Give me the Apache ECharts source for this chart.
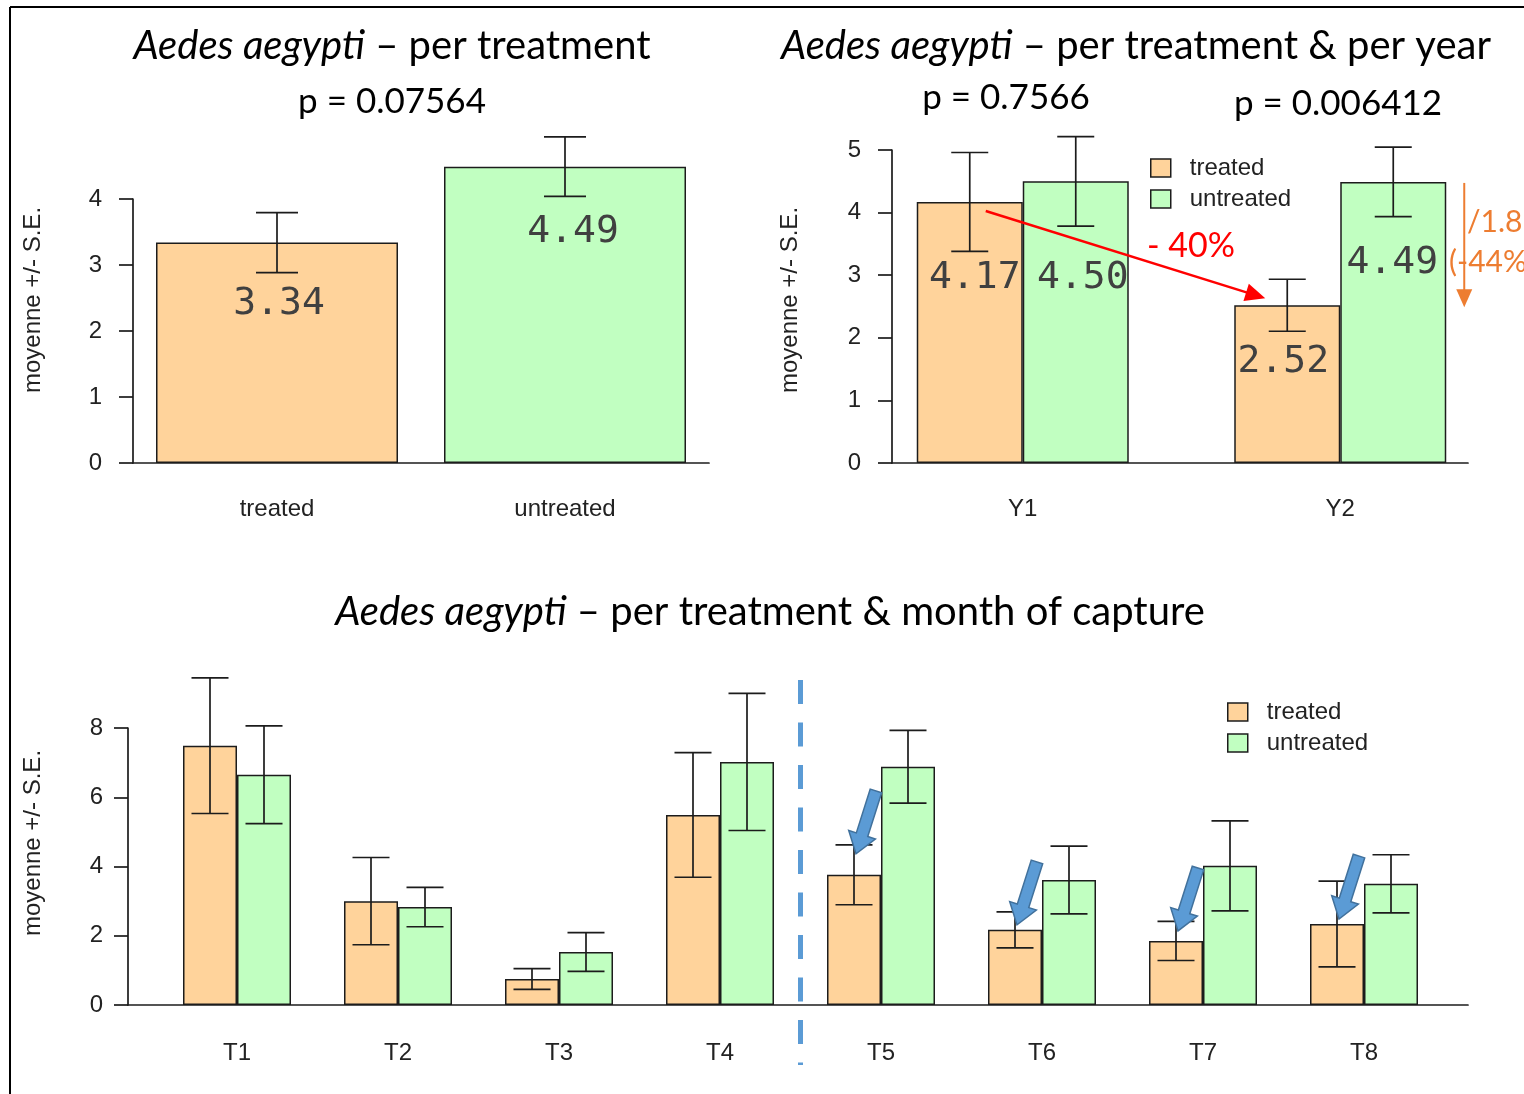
<!DOCTYPE html>
<html>
<head>
<meta charset="utf-8">
<script src="https://cdn.jsdelivr.net/npm/echarts@6/dist/echarts.min.js"></script>
<style>
  html, body { margin: 0; padding: 0; background: #ffffff; }
  #chart { width: 1524px; height: 1094px; }
</style>
</head>
<body>
<div id="chart"></div>
<script>
// ---- Aedes aegypti captures: mean +/- standard error ----

// Per treatment
const overallCats = ['treated', 'untreated'];
const overallMean = [3.34, 4.49];
const overallSe = [0.455, 0.45];

// Per treatment and year
const yearCats = ['Y1', 'Y2'];
const yearTreated = [4.17, 2.52];
const yearTreatedSe = [0.79, 0.415];
const yearUntreated = [4.50, 4.49];
const yearUntreatedSe = [0.715, 0.555];

// Per treatment and month of capture
const monthCats = ['T1', 'T2', 'T3', 'T4', 'T5', 'T6', 'T7', 'T8'];
const monthTreated = [7.49, 3.00, 0.75, 5.49, 3.76, 2.17, 1.85, 2.34];
const monthTreatedSe = [1.96, 1.26, 0.30, 1.80, 0.865, 0.52, 0.565, 1.24];
const monthUntreated = [6.65, 2.83, 1.53, 7.02, 6.88, 3.61, 4.02, 3.50];
const monthUntreatedSe = [1.41, 0.57, 0.56, 1.98, 1.05, 0.98, 1.30, 0.84];

// Axis ranges (tick step) for the three panels
const overallAxis = { max: 4, step: 1 };
const yearAxis = { max: 5, step: 1 };
const monthAxis = { max: 8, step: 2 };

const seriesNames = ['treated', 'untreated'];

// ---- styling ----
const TREATED = '#FFD39B';
const UNTREATED = '#C1FFC1';
const EDGE = '#1c1c1c';
const TITLE_FONT = "Lato, 'Open Sans', sans-serif";
const AXIS_FONT = "'Liberation Sans', Arial, sans-serif";
const NUM_FONT = "'DejaVu Sans Mono', 'Liberation Mono', monospace";
const BLUE = '#5B9BD5';
const ORANGE = '#ED7D31';

const chart = echarts.init(document.getElementById('chart'), null, { renderer: 'canvas' });

function axisLabelStyle(margin) {
  return { show: true, margin: margin, fontFamily: AXIS_FONT, fontSize: 24, color: '#222' };
}
const lineStyle = { color: EDGE, width: 1.7 };

function valueAxisVisible(gridIndex, cfg, margin) {
  return {
    gridIndex: gridIndex, type: 'value', min: 0, max: cfg.max, interval: cfg.step,
    axisLine: { show: true, lineStyle: lineStyle },
    axisTick: { show: true, length: 14, lineStyle: lineStyle },
    axisLabel: axisLabelStyle(margin),
    splitLine: { show: false }
  };
}
function valueAxisHidden(gridIndex, cfg) {
  return { gridIndex: gridIndex, type: 'value', min: 0, max: cfg.max, show: false, splitLine: { show: false } };
}
function categoryAxis(gridIndex, cats, showLine, margin) {
  return {
    gridIndex: gridIndex, type: 'category', data: cats,
    axisLine: { show: showLine, lineStyle: lineStyle },
    axisTick: { show: false },
    axisLabel: axisLabelStyle(margin),
    splitLine: { show: false }
  };
}
function frameXAxis(gridIndex) {
  return {
    gridIndex: gridIndex, type: 'value', min: 0, max: 1,
    axisLine: { show: true, onZero: false, lineStyle: lineStyle },
    axisTick: { show: false }, axisLabel: { show: false }, splitLine: { show: false }
  };
}

// error bars drawn through the axes: [category index, mean - se, mean + se]
function errorSeries(axisIndex, means, ses, shiftPx, capPx) {
  return {
    type: 'custom', xAxisIndex: axisIndex, yAxisIndex: axisIndex,
    clip: false, silent: true, z: 6,
    data: means.map((m, i) => [i, m - ses[i], m + ses[i]]),
    encode: { x: 0, y: [1, 2] },
    renderItem: function (params, api) {
      const lo = api.coord([api.value(0), api.value(1)]);
      const hi = api.coord([api.value(0), api.value(2)]);
      const x = lo[0] + shiftPx;
      const st = { stroke: EDGE, lineWidth: 1.7 };
      return {
        type: 'group', children: [
          { type: 'line', shape: { x1: x, y1: lo[1], x2: x, y2: hi[1] }, style: st },
          { type: 'line', shape: { x1: x - capPx / 2, y1: lo[1], x2: x + capPx / 2, y2: lo[1] }, style: st },
          { type: 'line', shape: { x1: x - capPx / 2, y1: hi[1], x2: x + capPx / 2, y2: hi[1] }, style: st }
        ]
      };
    }
  };
}

// value labels written inside the bars: [x shift, distance below bar top]
const overallLabelPlace = [[2, 62], [8, 65]];
const yearTreatedLabelPlace = [[5, 76], [-4, 57]];
const yearUntreatedLabelPlace = [[7, 97], [-1, 81]];

function labelled(values, places, color) {
  return values.map((v, i) => ({
    value: v,
    itemStyle: color ? { color: color[i] } : undefined,
    label: {
      show: true, position: ['50%', places[i][1]], offset: [places[i][0], 0],
      align: 'center', verticalAlign: 'middle',
      formatter: (p) => Number(p.value).toFixed(2),
      fontFamily: NUM_FONT, fontSize: 38, color: '#404040'
    }
  }));
}

const barBorder = { borderColor: EDGE, borderWidth: 1.5 };

function legendAt(left, top) {
  return {
    data: seriesNames, orient: 'vertical', left: left, top: top,
    icon: 'rect', itemWidth: 20, itemHeight: 18, itemGap: 7, selectedMode: false,
    itemStyle: { borderColor: EDGE, borderWidth: 1.5 },
    textStyle: { fontFamily: AXIS_FONT, fontSize: 24, color: '#222', padding: [0, 0, 0, 14] }
  };
}

const option = {
  backgroundColor: '#ffffff',
  animation: false,
  grid: [
    { left: 133, top: 199, width: 576, height: 264, containLabel: false, outerBoundsMode: 'none' },
    { left: 864, top: 150, width: 635, height: 313, containLabel: false, outerBoundsMode: 'none' },
    { left: 892, top: 150, width: 576, height: 313, containLabel: false, outerBoundsMode: 'none' },
    { left: 156.5, top: 728, width: 1288, height: 277, containLabel: false, outerBoundsMode: 'none' },
    { left: 128, top: 728, width: 1340, height: 277, containLabel: false, outerBoundsMode: 'none' }
  ],
  xAxis: [
    categoryAxis(0, overallCats, true, 34),
    categoryAxis(1, yearCats, false, 34),
    frameXAxis(2),
    categoryAxis(3, monthCats, false, 36),
    frameXAxis(4)
  ],
  yAxis: [
    valueAxisVisible(0, overallAxis, 31),
    valueAxisHidden(1, yearAxis),
    valueAxisVisible(2, yearAxis, 31),
    valueAxisHidden(3, monthAxis),
    valueAxisVisible(4, monthAxis, 25)
  ],
  legend: [legendAt(1145, 151), legendAt(1222, 695)],
  series: [
    // panel 1
    {
      name: 'per treatment', type: 'bar', xAxisIndex: 0, yAxisIndex: 0, clip: false,
      barWidth: 242, itemStyle: barBorder,
      data: labelled(overallMean, overallLabelPlace, [TREATED, UNTREATED])
    },
    errorSeries(0, overallMean, overallSe, 0, 42),
    // panel 2
    {
      name: 'treated', type: 'bar', xAxisIndex: 1, yAxisIndex: 1, clip: false,
      barWidth: 106, barGap: '0%', itemStyle: Object.assign({ color: TREATED }, barBorder),
      data: labelled(yearTreated, yearTreatedLabelPlace)
    },
    {
      name: 'untreated', type: 'bar', xAxisIndex: 1, yAxisIndex: 1, clip: false,
      barWidth: 106, barGap: '0%', itemStyle: Object.assign({ color: UNTREATED }, barBorder),
      data: labelled(yearUntreated, yearUntreatedLabelPlace)
    },
    errorSeries(1, yearTreated, yearTreatedSe, -53, 37),
    errorSeries(1, yearUntreated, yearUntreatedSe, 53, 37),
    // panel 3
    {
      name: 'treated', type: 'bar', xAxisIndex: 3, yAxisIndex: 3, clip: false,
      barWidth: 54, barGap: '0%', itemStyle: Object.assign({ color: TREATED }, barBorder),
      data: monthTreated
    },
    {
      name: 'untreated', type: 'bar', xAxisIndex: 3, yAxisIndex: 3, clip: false,
      barWidth: 54, barGap: '0%', itemStyle: Object.assign({ color: UNTREATED }, barBorder),
      data: monthUntreated
    },
    errorSeries(3, monthTreated, monthTreatedSe, -27, 37),
    errorSeries(3, monthUntreated, monthUntreatedSe, 27, 37)
  ]
};

chart.setOption(option);

// ---- annotations placed from the plotted values ----
function px(axisIndex, cat, value) {
  return chart.convertToPixel({ xAxisIndex: axisIndex, yAxisIndex: axisIndex }, [cat, value]);
}

function textEl(x, y, text, size, color, align) {
  const a = align || 'center';
  return {
    type: 'text', x: x, y: y, silent: true, z: 20,
    style: {
      text: text, fontFamily: TITLE_FONT, fontSize: size, fill: color,
      align: a, verticalAlign: 'middle', textAlign: a, textVerticalAlign: 'middle',
      rich: { i: { fontFamily: TITLE_FONT, fontSize: size, fontStyle: 'italic', fill: color, color: color } }
    }
  };
}

function lineArrow(x1, y1, x2, y2, color, width, headLen, headHalf) {
  const dx = x2 - x1, dy = y2 - y1, len = Math.hypot(dx, dy);
  const ux = dx / len, uy = dy / len, nx = -uy, ny = ux;
  const bx = x2 - ux * headLen, by = y2 - uy * headLen;
  return [
    { type: 'line', silent: true, z: 20, shape: { x1: x1, y1: y1, x2: bx + ux * 2, y2: by + uy * 2 }, style: { stroke: color, lineWidth: width } },
    { type: 'polygon', silent: true, z: 20, shape: { points: [[x2, y2], [bx + nx * headHalf, by + ny * headHalf], [bx - nx * headHalf, by - ny * headHalf]] }, style: { fill: color } }
  ];
}

function blockArrow(tipX, tipY, dirX, dirY) {
  const len = Math.hypot(dirX, dirY), ux = dirX / len, uy = dirY / len, nx = -uy, ny = ux;
  const L = 66, H = 20, shaft = 6, head = 14;
  const P = (d, n) => [tipX - ux * d + nx * n, tipY - uy * d + ny * n];
  return {
    type: 'polygon', silent: true, z: 21,
    shape: { points: [P(L, shaft), P(H, shaft), P(H, head), [tipX, tipY], P(H, -head), P(H, -shaft), P(L, -shaft)] },
    style: { fill: BLUE, stroke: '#41719C', lineWidth: 1.5 }
  };
}

const g = [];

// page frame
g.push({ type: 'line', silent: true, shape: { x1: 10, y1: 7, x2: 1524, y2: 7 }, style: { stroke: '#000', lineWidth: 2 } });
g.push({ type: 'line', silent: true, shape: { x1: 10, y1: 7, x2: 10, y2: 1094 }, style: { stroke: '#000', lineWidth: 2 } });

// titles
g.push(textEl(392, 46, '{i|Aedes aegypti} – per treatment', 40, '#000'));
g.push(textEl(392, 102, 'p = 0.07564', 35, '#000'));
g.push(textEl(1136, 46, '{i|Aedes aegypti} – per treatment & per year', 40, '#000'));
g.push(textEl(1006, 98, 'p = 0.7566', 35, '#000'));
g.push(textEl(1338, 104, 'p = 0.006412', 35, '#000'));
g.push(textEl(770, 612, '{i|Aedes aegypti} – per treatment & month of capture', 40, '#000'));

// y-axis titles
[[33, 300], [790, 300], [33, 843]].forEach(function (p) {
  g.push({
    type: 'text', x: p[0], y: p[1], rotation: Math.PI / 2, silent: true,
    style: {
      text: 'moyenne +/- S.E.', fontFamily: AXIS_FONT, fontSize: 24, fill: '#222',
      align: 'center', verticalAlign: 'middle', textAlign: 'center', textVerticalAlign: 'middle'
    }
  });
});

// year panel: change of treated mean between years
const t1 = px(1, 'Y1', yearTreated[0]);
const t2 = px(1, 'Y2', yearTreated[1]);
lineArrow(t1[0] - 53 + 16, t1[1] + 9, t2[0] - 53 - 22, t2[1] - 7, '#FF0000', 2.5, 20, 9).forEach(e => g.push(e));
g.push(textEl(1191, 246, '- 40%', 34, '#FF0000'));

// year panel: untreated vs treated in Y2
const u2 = px(1, 'Y2', yearUntreated[1]);
lineArrow(u2[0] + 124, u2[1] + 1, u2[0] + 124, t2[1] + 2, ORANGE, 2, 18, 8).forEach(e => g.push(e));
g.push(textEl(1467, 222, '/1.8', 30, ORANGE, 'left'));
g.push(textEl(1449, 262, '(-44%', 30, ORANGE, 'left'));

// month panel: separator between T4 and T5
const c4 = px(3, 'T4', 0), c5 = px(3, 'T5', 0);
const sepX = (c4[0] + c5[0]) / 2;
g.push({ type: 'line', silent: true, z: 15, shape: { x1: sepX, y1: 680, x2: sepX, y2: 1065 }, style: { stroke: BLUE, lineWidth: 5, lineDash: [24, 18.5] } });

// month panel: arrows on treated bars T5-T8
const arrowLift = [21, 5, 10, 5];
[4, 5, 6, 7].forEach(function (i, k) {
  const p = px(3, monthCats[i], monthTreated[i]);
  g.push(blockArrow(p[0] - 27 + 2, p[1] - arrowLift[k], -20, 63));
});

chart.setOption({ graphic: { elements: g } });
</script>
</body>
</html>
